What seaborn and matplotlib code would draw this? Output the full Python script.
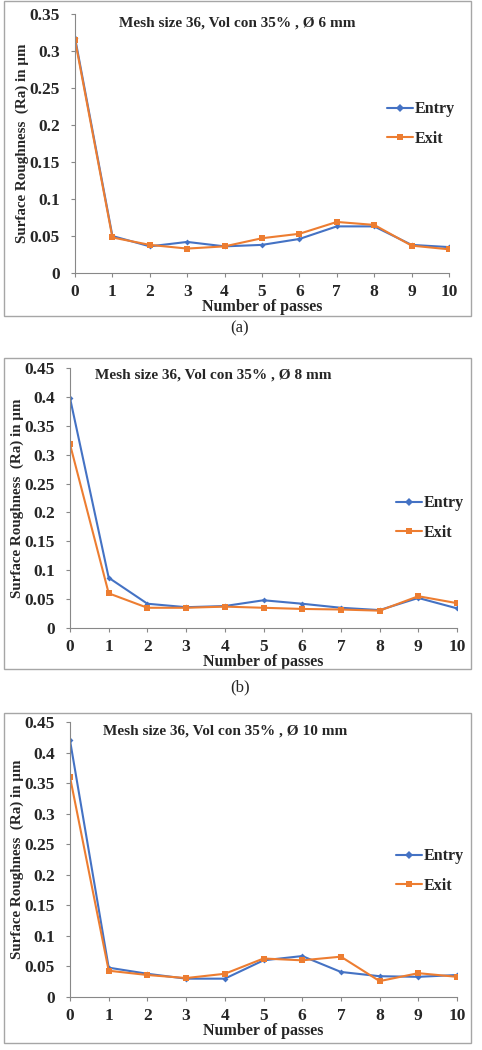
import pandas as pd
import matplotlib.pyplot as plt
import seaborn as sns
from matplotlib.patches import Rectangle

# passes on the x axis, same for all three panels
passes = list(range(11))

# (a) 6 mm
entry_6 = [0.318, 0.050, 0.036, 0.042, 0.036, 0.038, 0.046, 0.063, 0.063, 0.038, 0.035]
exit_6 = [0.315, 0.048, 0.038, 0.033, 0.036, 0.047, 0.053, 0.069, 0.065, 0.037, 0.032]

# (b) 8 mm
entry_8 = [0.398, 0.087, 0.042, 0.036, 0.038, 0.048, 0.042, 0.035, 0.031, 0.052, 0.034]
exit_8 = [0.318, 0.060, 0.035, 0.035, 0.037, 0.035, 0.033, 0.032, 0.030, 0.055, 0.043]

# (c) 10 mm
entry_10 = [0.420, 0.048, 0.038, 0.030, 0.030, 0.060, 0.067, 0.041, 0.034, 0.033, 0.036]
exit_10 = [0.360, 0.043, 0.036, 0.031, 0.038, 0.063, 0.060, 0.066, 0.026, 0.039, 0.033]

titles = ['Mesh size 36, Vol con 35% , Ø 6 mm',
          'Mesh size 36, Vol con 35% , Ø 8 mm',
          'Mesh size 36, Vol con 35% , Ø 10 mm']
panel_tags = ['(a)', '(b)', '(c)']
y_max = [0.35, 0.45, 0.45]
y_ticks = [[0, 0.05, 0.1, 0.15, 0.2, 0.25, 0.3, 0.35],
           [0, 0.05, 0.1, 0.15, 0.2, 0.25, 0.3, 0.35, 0.4, 0.45],
           [0, 0.05, 0.1, 0.15, 0.2, 0.25, 0.3, 0.35, 0.4, 0.45]]
y_ticklabels = [['0', '0.05', '0.1', '0.15', '0.2', '0.25', '0.3', '0.35'],
                ['0', '0.05', '0.1', '0.15', '0.2', '0.25', '0.3', '0.35', '0.4', '0.45'],
                ['0', '0.05', '0.1', '0.15', '0.2', '0.25', '0.3', '0.35', '0.4', '0.45']]
series = [(entry_6, exit_6), (entry_8, exit_8), (entry_10, exit_10)]

sns.set_theme(style='white')
plt.rcParams['font.family'] = ['Liberation Serif', 'DejaVu Serif']
plt.rcParams['font.weight'] = 'bold'

W, H = 482, 1050
fig = plt.figure(figsize=(W / 100, H / 100), dpi=100)


def px_axes(left, right, top, bottom):
    # convert pixel box (from top-left) into figure fractions
    return [left / W, 1 - bottom / H, (right - left) / W, (bottom - top) / H]


# pixel layout of each panel: axes box, outer frame, tag y, title pos, legend pos
axes_boxes = [(75, 449, 14, 273), (70, 457, 368, 628), (70, 457, 722, 997)]
frames = [(4, 471, 1, 316), (4, 471, 358, 669), (4, 471, 713, 1043)]
tag_y = [328, 687, None]
title_pos = [(0.435, 0.965), (0.37, 0.972), (0.40, 0.967)]
legend_pos = [(0.925, 0.575), (0.93, 0.423), (0.93, 0.458)]

for i in range(3):
    fl, fr, ft, fb = frames[i]
    fig.patches.append(Rectangle((fl / W, 1 - fb / H), (fr - fl) / W, (fb - ft) / H,
                                 transform=fig.transFigure, fill=False,
                                 edgecolor='#a6a6a6', linewidth=1.0))

    ax = fig.add_axes(px_axes(*axes_boxes[i]))
    entry, exit_ = series[i]
    df = pd.DataFrame({'passes': passes * 2,
                       'ra': entry + exit_,
                       'side': ['Entry'] * 11 + ['Exit'] * 11})
    sns.lineplot(data=df, x='passes', y='ra', hue='side', style='side',
                 markers={'Entry': 'D', 'Exit': 's'}, dashes=False,
                 palette={'Entry': '#4472C4', 'Exit': '#ED7D31'},
                 linewidth=1.5, markersize=4, markeredgewidth=0, ax=ax)
    # make entry diamond a little smaller like the excel one
    ax.lines[0].set_markersize(3)

    ax.set_xlim(0, 10)
    ax.set_ylim(0, y_max[i])
    ax.set_xticks(passes)
    ax.set_xticklabels([str(p) for p in passes], fontsize=12.5, fontweight='bold')
    ax.set_yticks(y_ticks[i])
    ax.set_yticklabels(y_ticklabels[i], fontsize=12.5, fontweight='bold')
    ax.tick_params(axis='both', direction='out', length=3, width=0.8,
                   color='#888888', bottom=True, left=True)
    ax.tick_params(axis='x', pad=5)
    ax.tick_params(axis='y', pad=8)
    for s in ['top', 'right']:
        ax.spines[s].set_visible(False)
    for s in ['left', 'bottom']:
        ax.spines[s].set_color('#888888')
        ax.spines[s].set_linewidth(0.8)

    ax.set_xlabel('Number of passes', fontsize=11.5, fontweight='bold', labelpad=-1)
    ax.set_ylabel('Surface Roughness  (Ra) in µm', fontsize=10.8, fontweight='bold',
                  labelpad=0)
    ax.text(title_pos[i][0], title_pos[i][1], titles[i], transform=ax.transAxes,
            ha='center', va='center', fontsize=11, fontweight='bold')

    leg = ax.legend(loc='center', bbox_to_anchor=legend_pos[i], frameon=False,
                    fontsize=11.5, handlelength=1.6, handletextpad=0.1,
                    labelspacing=0.85, borderaxespad=0)
    for t in leg.get_texts():
        t.set_fontweight('bold')

    if tag_y[i] is not None:
        fig.text(240 / W, 1 - tag_y[i] / H, panel_tags[i], ha='center', va='center',
                 fontsize=12, fontweight='normal', family=['Liberation Serif'])

fig.savefig('out.png', dpi=100)
